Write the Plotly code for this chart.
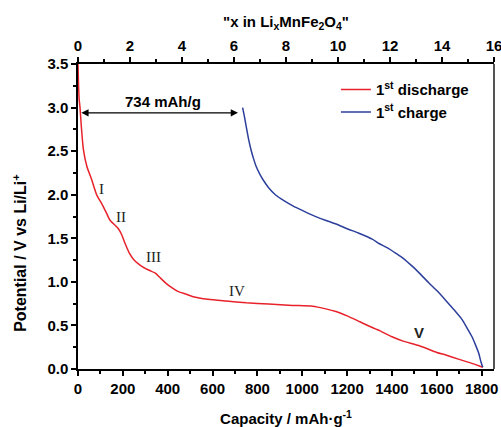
import plotly.graph_objects as go

# First discharge curve (capacity in mAh/g, potential in V vs Li/Li+)
discharge_capacity = [0, 2, 5, 9, 15, 24, 40, 60, 83, 105, 125, 142, 165, 180, 195, 210,
                      231, 250, 268, 290, 320, 345, 365, 394, 420, 445, 480, 513, 580,
                      661, 750, 850, 957, 1046, 1105, 1150, 1200, 1250, 1300, 1345, 1400,
                      1450, 1519, 1600, 1640, 1700, 1750, 1790, 1805]
discharge_potential = [3.50, 3.30, 3.10, 3.00, 2.78, 2.52, 2.32, 2.18, 2.00, 1.90, 1.80,
                       1.71, 1.65, 1.61, 1.54, 1.44, 1.32, 1.25, 1.21, 1.17, 1.13, 1.10,
                       1.05, 0.98, 0.93, 0.89, 0.86, 0.83, 0.80, 0.78, 0.76, 0.745, 0.73,
                       0.72, 0.69, 0.66, 0.61, 0.55, 0.49, 0.44, 0.37, 0.32, 0.27, 0.19,
                       0.16, 0.11, 0.07, 0.035, 0.02]

# First charge curve
charge_capacity = [1805, 1797, 1787, 1772, 1757, 1735, 1712, 1680, 1639, 1600, 1564, 1530,
                   1490, 1450, 1416, 1380, 1342, 1312, 1250, 1200, 1164, 1100, 1050, 1000,
                   960, 920, 880, 850, 828, 810, 795, 782, 772, 762, 751, 742, 734]
charge_potential = [0.02, 0.08, 0.18, 0.28, 0.37, 0.47, 0.57, 0.67, 0.79, 0.90, 0.99, 1.08,
                    1.18, 1.27, 1.33, 1.39, 1.44, 1.49, 1.56, 1.61, 1.65, 1.71, 1.76, 1.82,
                    1.87, 1.93, 2.00, 2.08, 2.16, 2.24, 2.32, 2.42, 2.51, 2.62, 2.77, 2.90,
                    3.00]

# Region markers along the discharge curve
region_labels = ["I", "II", "III", "IV", "V"]
region_x = [105, 192, 336, 711, 1519]
region_y = [2.07, 1.75, 1.28, 0.89, 0.42]
region_serif = [True, True, True, True, False]

# Irreversible capacity marker
gap_start = 15
gap_end = 720
gap_level = 2.94
gap_text = "734 mAh/g"
gap_text_x = 379

x_ticks = [0, 200, 400, 600, 800, 1000, 1200, 1400, 1600, 1800]
li_ticks = [0, 2, 4, 6, 8, 10, 12, 14, 16]
y_ticks = [0.0, 0.5, 1.0, 1.5, 2.0, 2.5, 3.0, 3.5]

RED = "#e8222b"
BLUE = "#2c3f9c"
SANS = "Liberation Sans, Arial, sans-serif"
SERIF = "Liberation Serif, Times New Roman, serif"

tick_font = dict(family=SANS, size=15, color="black", weight="bold")

fig = go.Figure()
fig.add_trace(go.Scatter(x=discharge_capacity, y=discharge_potential, mode="lines",
                         line=dict(color=RED, width=1.5, shape="spline", smoothing=0.6),
                         name="<b>1<sup>st</sup> discharge</b>"))
fig.add_trace(go.Scatter(x=charge_capacity, y=charge_potential, mode="lines",
                         line=dict(color=BLUE, width=1.5, shape="spline", smoothing=0.6),
                         name="<b>1<sup>st</sup> charge</b>"))
# carrier trace so the top Li-content axis is drawn
fig.add_trace(go.Scatter(x=[li_ticks[0], li_ticks[-1]], y=[0, 0], xaxis="x2",
                         mode="markers", marker=dict(opacity=0), showlegend=False,
                         hoverinfo="skip"))

axis_common = dict(showgrid=False, zeroline=False, showline=True, linecolor="black",
                   linewidth=1.5, ticks="outside", ticklen=5, tickwidth=1.5,
                   tickcolor="black", tickfont=tick_font, automargin=False,
                   ticklabeloverflow="allow")

fig.update_layout(
    width=501, height=427,
    margin=dict(l=78, r=7, t=64, b=58),
    paper_bgcolor="white", plot_bgcolor="white",
    showlegend=True,
    legend=dict(x=0.62, y=0.97, xanchor="left", yanchor="top",
                bgcolor="rgba(0,0,0,0)", font=dict(family=SANS, size=15, color="black"),
                tracegroupgap=0),
    xaxis=dict(range=[0, 1855], tickvals=x_ticks,
               minor=dict(dtick=100, tick0=0, ticks="outside", ticklen=3,
                          tickwidth=1.5, tickcolor="black"),
               title=dict(text="<b>Capacity / mAh·g<sup>-1</sup></b>",
                          font=dict(family=SANS, size=15, color="black"), standoff=18),
               **axis_common),
    xaxis2=dict(range=[0, 16], tickvals=li_ticks, overlaying="x", side="top", anchor="y",
                minor=dict(dtick=1, tick0=0, ticks="outside", ticklen=3,
                           tickwidth=1.5, tickcolor="black"),
                title=dict(text='<b>"x in Li<sub>x</sub>MnFe<sub>2</sub>O<sub>4</sub>"</b>',
                           font=dict(family=SANS, size=15, color="black"), standoff=6),
                **axis_common),
    yaxis=dict(range=[0, 3.5], tickvals=y_ticks, tickformat=".1f",
               minor=dict(dtick=0.25, tick0=0, ticks="outside", ticklen=3,
                          tickwidth=1.5, tickcolor="black"),
               **axis_common),
)

# right frame edge
fig.add_shape(type="line", xref="paper", yref="paper", x0=1, x1=1, y0=0, y1=1,
              line=dict(color="#555555", width=2))

# y-axis title
fig.add_annotation(xref="paper", yref="paper", x=-0.14, y=0.38, xanchor="center",
                   yanchor="middle", textangle=-90, showarrow=False,
                   text="<b>Potential / V vs Li/Li<sup>+</sup></b>",
                   font=dict(family=SANS, size=16, color="black"))

# double-headed arrow for the first-cycle capacity gap
fig.add_annotation(x=gap_start, y=gap_level, ax=gap_end, ay=gap_level, xref="x", yref="y",
                   axref="x", ayref="y", text="", showarrow=True, arrowside="end+start",
                   arrowhead=2, arrowsize=1.2, arrowwidth=1.2, arrowcolor="black")
fig.add_annotation(x=gap_text_x, y=gap_level + 0.13, xref="x", yref="y",
                   text="<b>" + gap_text + "</b>", showarrow=False,
                   font=dict(family=SANS, size=15, color="black"))

for lab, xv, yv, serif in zip(region_labels, region_x, region_y, region_serif):
    if serif:
        f = dict(family=SERIF, size=15, color="#222222")
        t = lab
    else:
        f = dict(family=SANS, size=15, color="#222222")
        t = "<b>" + lab + "</b>"
    fig.add_annotation(x=xv, y=yv, xref="x", yref="y", text=t, showarrow=False, font=f)

fig.write_html("out.html")
